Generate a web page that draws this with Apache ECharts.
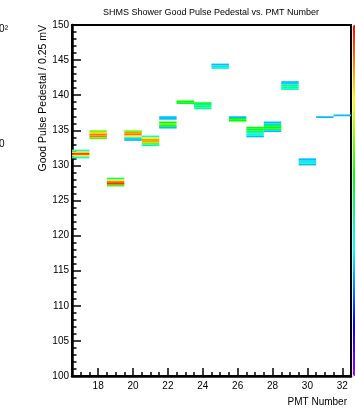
<!DOCTYPE html>
<html>
<head>
<meta charset="utf-8">
<script src="https://cdn.jsdelivr.net/npm/echarts@6/dist/echarts.min.js"></script>
<style>
html,body{margin:0;padding:0;background:#fff;}
#chart{width:355px;height:412px;}
</style>
</head>
<body>
<div id="chart"></div>
<script>
// ---- data (bin centres of a 2D histogram; bin height 0.25) ----
const pmt = [
  17,17,17,17,17,
  18,18,18,18,18,
  19,19,19,19,19,
  20,20,20,20,20,20,
  21,21,21,21,21,21,
  22,22,22,22,22,22,
  23,23,
  24,24,24,24,
  25,25,25,
  26,26,26,
  27,27,27,27,27,27,
  28,28,28,28,28,28,
  29,29,29,29,29,
  30,30,30,30,
  31,
  32
];
const pedestal = [
  132.125,131.875,131.625,131.375,131.125,
  134.875,134.625,134.375,134.125,133.875,
  128.125,127.875,127.625,127.375,127.125,
  134.875,134.625,134.375,134.125,133.875,133.625,
  134.125,133.875,133.625,133.375,133.125,132.875,
  136.875,136.625,136.125,135.875,135.625,135.375,
  139.125,138.875,
  138.875,138.625,138.375,138.125,
  144.375,144.125,143.875,
  136.875,136.625,136.375,
  135.375,135.125,134.875,134.625,134.375,134.125,
  136.125,135.875,135.625,135.375,135.125,134.875,
  141.875,141.625,141.375,141.125,140.875,
  130.875,130.625,130.375,130.125,
  136.875,
  137.125
];
const counts = [
  38,82,97,80,40,
  66,82,90,90,64,
  47,76,92,96,62,
  66,88,90,78,33,30,
  38,76,88,86,66,45,
  30,31,57,67,56,30,
  57,55,
  52,47,46,45,
  30,33,42,
  30,56,57,
  57,55,48,43,40,30,
  30,32,55,57,52,30,
  30,32,45,44,42,
  30,33,40,30,
  30,
  30
];
const xMajorTicks = [18,20,22,24,26,28,30,32];
const xMinorTicks = [17,17.5,18.5,19,19.5,20.5,21,21.5,22.5,23,23.5,24.5,25,25.5,26.5,27,27.5,28.5,29,29.5,30.5,31,31.5,32.5];
const binHeight = 0.25;

const cells = pmt.map((p, i) => [p, pedestal[i], counts[i]]);

const FONT = '"Liberation Sans", Arial, sans-serif';
const palette = ['#aa00ff','#5500ff','#0000ff','#0055ff','#00aaff','#00ffff','#00ffaa',
                 '#00ff55','#00ff00','#55ff00','#aaff00','#ffff00','#ffaa00','#ff5500','#ff0000'];

const chart = echarts.init(document.getElementById('chart'), null, {renderer: 'canvas'});
chart.setOption({
  animation: false,
  backgroundColor: '#fff',
  grid: {left: 72, top: 25, width: 279, height: 351, show: true,
         borderColor: '#000', borderWidth: 2, backgroundColor: 'transparent'},
  xAxis: [{
    type: 'value', min: 16.5, max: 32.5, position: 'bottom',
    axisLine: {show: true, onZero: false, lineStyle: {color: '#000', width: 2.5}},
    axisTick: {show: true, inside: true, length: 4, customValues: xMinorTicks,
               lineStyle: {color: '#000', width: 1.5}},
    axisLabel: {show: false},
    splitLine: {show: false}
  }, {
    type: 'value', min: 16.5, max: 32.5, position: 'bottom',
    axisLine: {show: false, onZero: false},
    axisTick: {show: true, inside: true, length: 8, customValues: xMajorTicks,
               lineStyle: {color: '#000', width: 1.5}},
    axisLabel: {show: true, customValues: xMajorTicks, margin: 5,
                color: '#000', fontSize: 10, fontFamily: FONT},
    splitLine: {show: false}
  }],
  yAxis: {
    type: 'value', min: 100, max: 150, interval: 5,
    axisLine: {show: true, onZero: false, lineStyle: {color: '#000', width: 2.5}},
    axisTick: {show: true, inside: true, length: 9, lineStyle: {color: '#000', width: 1.5}},
    minorTick: {show: true, splitNumber: 5, length: 4.5, lineStyle: {color: '#000', width: 1.5}},
    axisLabel: {margin: 3, color: '#000', fontSize: 10, fontFamily: FONT},
    splitLine: {show: false}
  },
  visualMap: {
    type: 'continuous', min: 0, max: 100, dimension: 2, seriesIndex: 0,
    calculable: false, orient: 'vertical',
    left: 353, top: 25, itemWidth: 4, itemHeight: 351, padding: 0,
    text: null, showLabel: false,
    inRange: {color: palette}
  },
  series: [{
    type: 'custom',
    xAxisIndex: 0, yAxisIndex: 0,
    dimensions: ['pmt', 'pedestal', 'count'],
    encode: {x: 0, y: 1},
    data: cells,
    clip: true,
    renderItem: function (params, api) {
      const p = api.value(0), v = api.value(1);
      const a = api.coord([p - 0.5, v + binHeight / 2]);
      const b = api.coord([p + 0.5, v - binHeight / 2]);
      return {
        type: 'rect',
        shape: {x: a[0], y: a[1], width: b[0] - a[0], height: b[1] - a[1]},
        style: {fill: api.visual('color')}
      };
    }
  }],
  graphic: [
    {type: 'text', x: 211, y: 13,
     style: {text: 'SHMS Shower Good Pulse Pedestal vs. PMT Number', fill: '#000',
             font: '9px ' + FONT, align: 'center', verticalAlign: 'middle'}},
    {type: 'text', x: 43, y: 25, rotation: Math.PI / 2,
     style: {text: 'Good Pulse Pedestal / 0.25 mV', fill: '#000',
             font: '10.5px ' + FONT, align: 'right', verticalAlign: 'middle'}},
    {type: 'text', x: 347, y: 402,
     style: {text: 'PMT Number', fill: '#000',
             font: '10px ' + FONT, align: 'right', verticalAlign: 'middle'}},
    {type: 'text', x: 8, y: 29,
     style: {text: '10²', fill: '#000',
             font: '10px ' + FONT, align: 'right', verticalAlign: 'middle'}},
    {type: 'text', x: 4.5, y: 144,
     style: {text: '10', fill: '#000',
             font: '10px ' + FONT, align: 'right', verticalAlign: 'middle'}}
  ]
});
</script>
</body>
</html>
